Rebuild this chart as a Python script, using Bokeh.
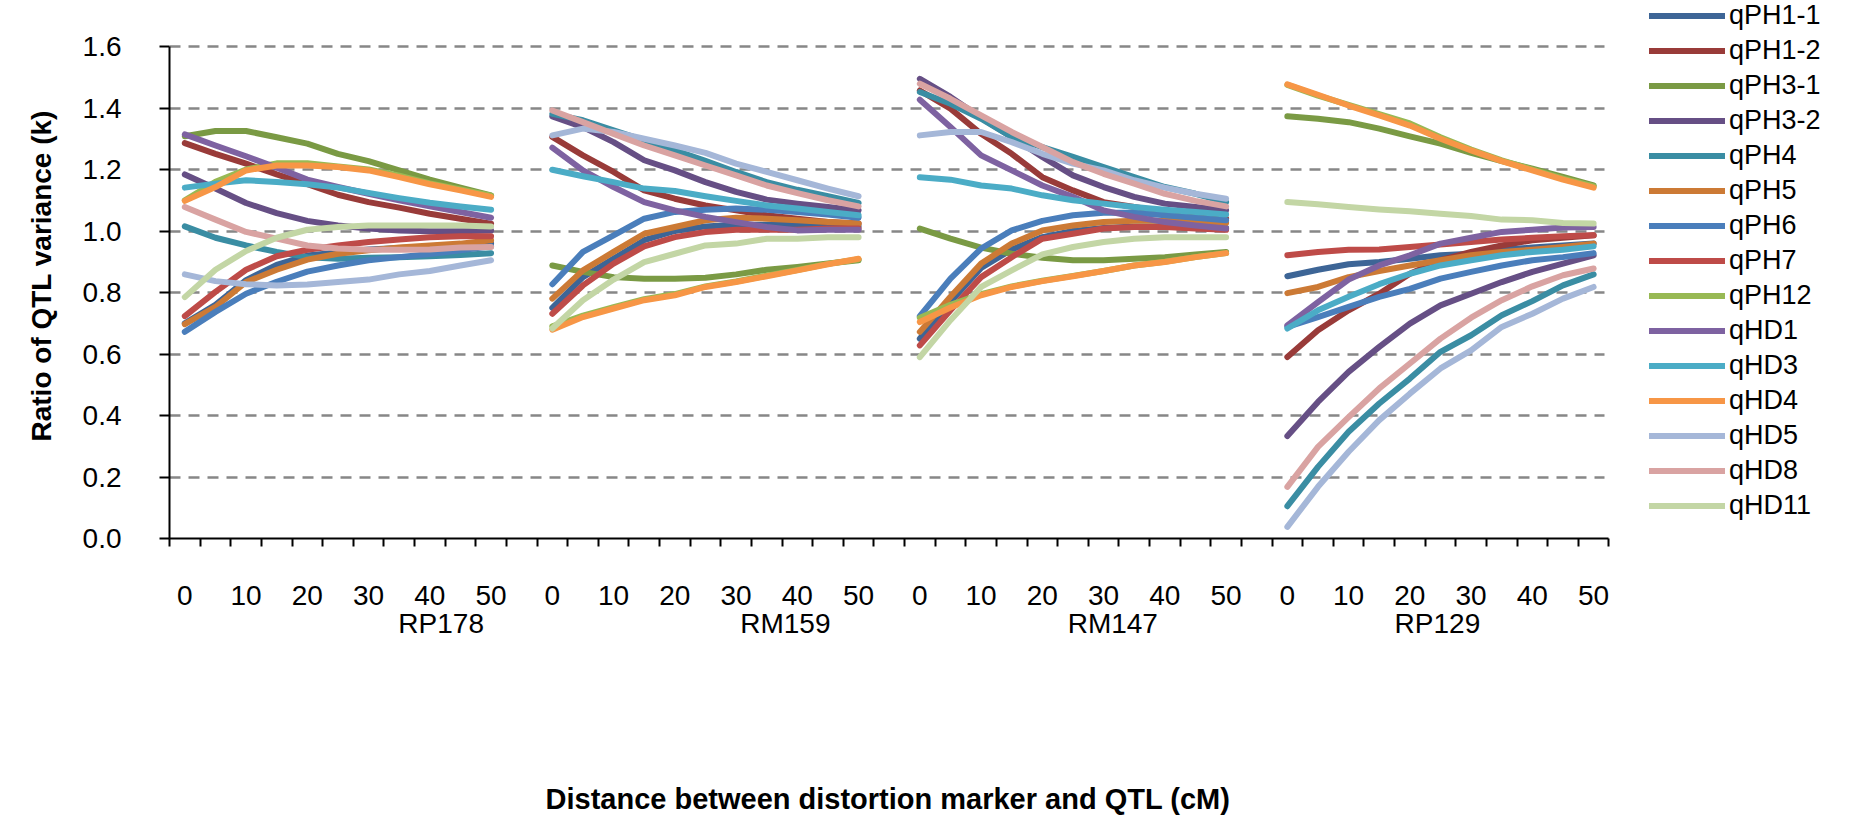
from bokeh.plotting import figure
from bokeh.models import (ColumnDataSource, Legend, LegendItem, LinearAxis,
                          FixedTicker, Range1d, NumeralTickFormatter, Title)
from bokeh.embed import file_html
from bokeh.resources import INLINE

# ---------------- data ----------------
markers = ["RP178", "RM159", "RM147", "RP129"]
distances = [0, 5, 10, 15, 20, 25, 30, 35, 40, 45, 50]
labelled_distances = [0, 10, 20, 30, 40, 50]

series_names = ["qPH1-1", "qPH1-2", "qPH3-1", "qPH3-2", "qPH4", "qPH5", "qPH6",
                "qPH7", "qPH12", "qHD1", "qHD3", "qHD4", "qHD5", "qHD8", "qHD11"]

# each series: one list of k values per marker (RP178, RM159, RM147, RP129)
qPH1_1 = [[0.70, 0.76, 0.84, 0.89, 0.92, 0.93, 0.94, 0.945, 0.95, 0.955, 0.96],
          [0.75, 0.85, 0.91, 0.97, 1.00, 1.015, 1.02, 1.02, 1.02, 1.02, 1.015],
          [0.65, 0.77, 0.88, 0.94, 0.98, 1.00, 1.01, 1.015, 1.015, 1.01, 1.01],
          [0.853, 0.874, 0.892, 0.899, 0.910, 0.921, 0.926, 0.939, 0.946, 0.953, 0.959]]
qPH1_2 = [[1.286, 1.251, 1.219, 1.184, 1.152, 1.118, 1.094, 1.076, 1.056, 1.040, 1.024],
          [1.306, 1.246, 1.192, 1.132, 1.105, 1.083, 1.067, 1.051, 1.040, 1.029, 1.024],
          [1.457, 1.398, 1.316, 1.251, 1.175, 1.132, 1.094, 1.078, 1.062, 1.051, 1.040],
          [0.590, 0.677, 0.742, 0.796, 0.861, 0.905, 0.932, 0.953, 0.970, 0.978, 0.986]]
qPH3_1 = [[1.308, 1.325, 1.325, 1.305, 1.284, 1.251, 1.227, 1.197, 1.167, 1.141, 1.116],
          [0.888, 0.867, 0.850, 0.845, 0.845, 0.848, 0.859, 0.874, 0.883, 0.894, 0.905],
          [1.008, 0.975, 0.946, 0.926, 0.913, 0.905, 0.905, 0.910, 0.915, 0.924, 0.932],
          [1.373, 1.365, 1.354, 1.333, 1.308, 1.284, 1.254, 1.227, 1.203, 1.176, 1.148]]
qPH3_2 = [[1.184, 1.138, 1.091, 1.058, 1.033, 1.018, 1.008, 1.002, 0.999, 0.999, 1.002],
          [1.373, 1.338, 1.289, 1.230, 1.197, 1.159, 1.127, 1.102, 1.089, 1.078, 1.067],
          [1.495, 1.436, 1.368, 1.306, 1.241, 1.181, 1.143, 1.111, 1.089, 1.078, 1.067],
          [0.333, 0.444, 0.542, 0.623, 0.699, 0.758, 0.796, 0.834, 0.867, 0.894, 0.921]]
qPH4 = [[1.015, 0.978, 0.953, 0.932, 0.915, 0.910, 0.913, 0.915, 0.918, 0.922, 0.928],
        [1.381, 1.360, 1.327, 1.295, 1.262, 1.228, 1.192, 1.159, 1.134, 1.113, 1.091],
        [1.452, 1.414, 1.365, 1.306, 1.273, 1.241, 1.208, 1.175, 1.143, 1.121, 1.094],
        [0.105, 0.233, 0.347, 0.439, 0.520, 0.607, 0.661, 0.726, 0.772, 0.823, 0.859]]
qPH5 = [[0.697, 0.753, 0.834, 0.874, 0.907, 0.926, 0.937, 0.946, 0.953, 0.959, 0.970],
        [0.780, 0.872, 0.932, 0.991, 1.013, 1.035, 1.043, 1.040, 1.035, 1.029, 1.024],
        [0.672, 0.786, 0.894, 0.959, 1.002, 1.018, 1.029, 1.033, 1.033, 1.029, 1.026],
        [0.798, 0.818, 0.850, 0.870, 0.888, 0.905, 0.921, 0.932, 0.939, 0.948, 0.959]]
qPH6 = [[0.672, 0.737, 0.796, 0.835, 0.868, 0.888, 0.905, 0.915, 0.925, 0.937, 0.950],
        [0.827, 0.932, 0.986, 1.040, 1.062, 1.069, 1.073, 1.069, 1.062, 1.054, 1.043],
        [0.723, 0.845, 0.943, 1.002, 1.033, 1.051, 1.059, 1.059, 1.051, 1.043, 1.035],
        [0.688, 0.720, 0.753, 0.786, 0.812, 0.845, 0.867, 0.888, 0.905, 0.915, 0.928]]
qPH7 = [[0.723, 0.802, 0.874, 0.918, 0.939, 0.953, 0.964, 0.972, 0.980, 0.983, 0.983],
        [0.731, 0.823, 0.894, 0.950, 0.980, 0.997, 1.004, 1.004, 1.004, 1.008, 1.008],
        [0.628, 0.742, 0.850, 0.915, 0.975, 0.991, 1.008, 1.013, 1.013, 1.008, 1.004],
        [0.921, 0.932, 0.939, 0.940, 0.948, 0.956, 0.964, 0.972, 0.978, 0.983, 0.986]]
qPH12 = [[1.100, 1.160, 1.200, 1.220, 1.220, 1.210, 1.200, 1.180, 1.155, 1.135, 1.115],
         [0.690, 0.725, 0.752, 0.778, 0.795, 0.820, 0.836, 0.855, 0.873, 0.893, 0.908],
         [0.718, 0.760, 0.795, 0.820, 0.838, 0.854, 0.870, 0.888, 0.900, 0.915, 0.928],
         [1.475, 1.440, 1.410, 1.380, 1.350, 1.305, 1.265, 1.230, 1.200, 1.170, 1.145]]
qHD1 = [[1.314, 1.278, 1.243, 1.206, 1.167, 1.143, 1.121, 1.100, 1.080, 1.062, 1.043],
        [1.271, 1.197, 1.143, 1.094, 1.067, 1.046, 1.029, 1.013, 1.002, 1.004, 1.004],
        [1.427, 1.338, 1.246, 1.197, 1.148, 1.111, 1.067, 1.046, 1.029, 1.018, 1.008],
        [0.693, 0.769, 0.842, 0.888, 0.921, 0.959, 0.978, 0.997, 1.004, 1.011, 1.013]]
qHD3 = [[1.141, 1.154, 1.165, 1.159, 1.152, 1.141, 1.124, 1.107, 1.092, 1.080, 1.069],
        [1.199, 1.178, 1.159, 1.138, 1.130, 1.113, 1.098, 1.083, 1.073, 1.062, 1.051],
        [1.175, 1.167, 1.148, 1.138, 1.116, 1.100, 1.089, 1.078, 1.069, 1.062, 1.054],
        [0.683, 0.742, 0.786, 0.827, 0.861, 0.888, 0.905, 0.921, 0.932, 0.939, 0.950]]
qHD4 = [[1.098, 1.143, 1.197, 1.213, 1.213, 1.208, 1.197, 1.175, 1.152, 1.132, 1.111],
        [0.679, 0.720, 0.748, 0.775, 0.791, 0.818, 0.834, 0.853, 0.872, 0.892, 0.910],
        [0.704, 0.751, 0.791, 0.818, 0.837, 0.853, 0.870, 0.888, 0.899, 0.915, 0.928],
        [1.477, 1.443, 1.408, 1.376, 1.343, 1.300, 1.262, 1.227, 1.197, 1.167, 1.141]]
qHD5 = [[0.859, 0.837, 0.827, 0.823, 0.826, 0.834, 0.842, 0.859, 0.870, 0.888, 0.905],
        [1.311, 1.333, 1.322, 1.300, 1.278, 1.254, 1.219, 1.192, 1.165, 1.138, 1.113],
        [1.311, 1.322, 1.322, 1.289, 1.251, 1.219, 1.197, 1.165, 1.141, 1.121, 1.105],
        [0.038, 0.168, 0.282, 0.385, 0.471, 0.553, 0.612, 0.688, 0.731, 0.780, 0.818]]
qHD8 = [[1.078, 1.037, 0.997, 0.975, 0.953, 0.943, 0.939, 0.939, 0.940, 0.946, 0.948],
        [1.392, 1.354, 1.316, 1.278, 1.246, 1.213, 1.181, 1.148, 1.123, 1.100, 1.080],
        [1.479, 1.430, 1.376, 1.322, 1.273, 1.224, 1.186, 1.154, 1.121, 1.098, 1.080],
        [0.168, 0.298, 0.395, 0.488, 0.569, 0.650, 0.718, 0.775, 0.820, 0.856, 0.878]]
qHD11 = [[0.785, 0.874, 0.935, 0.978, 1.004, 1.013, 1.018, 1.018, 1.018, 1.018, 1.015],
         [0.683, 0.775, 0.842, 0.899, 0.926, 0.953, 0.959, 0.975, 0.975, 0.980, 0.980],
         [0.590, 0.710, 0.818, 0.872, 0.924, 0.948, 0.964, 0.975, 0.980, 0.980, 0.980],
         [1.094, 1.087, 1.078, 1.070, 1.064, 1.056, 1.049, 1.037, 1.035, 1.026, 1.024]]

series_values = [qPH1_1, qPH1_2, qPH3_1, qPH3_2, qPH4, qPH5, qPH6,
                 qPH7, qPH12, qHD1, qHD3, qHD4, qHD5, qHD8, qHD11]

y_ticks = [0.0, 0.2, 0.4, 0.6, 0.8, 1.0, 1.2, 1.4, 1.6]
x_title = "Distance between distortion marker and QTL (cM)"
y_title = "Ratio of QTL variance (k)"

# ---------------- styles / layout ----------------
colors = ["#3D6596", "#993B39", "#7A9A44", "#664F85", "#3A8DA3", "#CC7A35",
          "#4A7EBB", "#BE4B48", "#98B954", "#7E62A1", "#4BACC6", "#F79646",
          "#A5B7D8", "#D9A3A2", "#C3D6A5"]
# offset (in category slots) of each marker's group label from its group's start
group_label_offset = [8.37, 7.61, 6.3, 4.9]

FONT = "Liberation Sans"
n_pts = len(distances)
stride = n_pts + 1          # one empty slot between marker groups
n_slots = stride * len(markers) - 1

# pixel layout: chart area 166..1608 x 46..538; the plotting frame is
# extended to the top/right edge so that the legend can live inside it
W, H = 1852, 825
LEFT, TOP, AXW, AXH = 166, 46, 1442, 492
slot_px = AXW / n_slots
x_lo = -0.5
x_axis_hi = n_slots - 0.5
x_frame_hi = x_lo + (W - LEFT) / slot_px
y_axis_hi = y_ticks[-1]
y_frame_hi = y_axis_hi * (AXH + TOP) / AXH

p = figure(width=W, height=H, output_backend="svg", toolbar_location=None,
           x_range=Range1d(x_lo, x_frame_hi), y_range=Range1d(0, y_frame_hi),
           min_border_left=LEFT, min_border_top=0,
           min_border_right=0, min_border_bottom=H - TOP - AXH)
p.outline_line_color = None
p.background_fill_color = "white"
p.border_fill_color = "white"

items = []
for name, vals, col in zip(series_names, series_values, colors):
    xs = [[g * stride + k for k in range(n_pts)] for g in range(len(markers))]
    src = ColumnDataSource(dict(xs=xs, ys=vals))
    r = p.multi_line("xs", "ys", source=src, line_color=col, line_width=6,
                     line_cap="round", line_join="round")
    items.append(LegendItem(label=name, renderers=[r]))

# grid
p.xgrid.visible = False
yg = p.ygrid[0]
yg.ticker = FixedTicker(ticks=y_ticks[1:])
yg.grid_line_color = "#878787"
yg.grid_line_width = 2.5
yg.grid_line_dash = "11 8"
if "cross_bounds" in yg.properties():
    yg.cross_bounds = (x_lo, x_axis_hi - 0.15)

# y axis
ya = p.yaxis[0]
ya.bounds = (0, y_axis_hi)
ya.ticker = FixedTicker(ticks=y_ticks, minor_ticks=[])
ya.formatter = NumeralTickFormatter(format="0.0")
ya.axis_line_color = "black"
ya.axis_line_width = 2
ya.major_tick_line_width = 2
ya.major_tick_out = 10
ya.major_tick_in = 0
ya.major_label_standoff = 38
ya.major_label_text_font = FONT
ya.major_label_text_font_size = "28px"
ya.major_label_text_color = "black"

# x axis: tick marks at slot boundaries, labels at every other slot centre
xa = p.xaxis[0]
xa.bounds = (x_lo, x_axis_hi)
label_pos = []
overrides = {}
for g in range(len(markers)):
    for d in labelled_distances:
        pos = g * stride + distances.index(d)
        label_pos.append(pos)
        overrides[pos] = str(d)
boundaries = [i - 0.5 for i in range(n_slots + 1)]
xa.ticker = FixedTicker(ticks=label_pos, minor_ticks=boundaries)
xa.major_label_overrides = overrides
xa.major_tick_line_color = None
xa.major_tick_out = 8
xa.major_tick_in = 0
xa.minor_tick_line_color = "black"
xa.minor_tick_line_width = 2
xa.minor_tick_out = 8
xa.minor_tick_in = 0
xa.axis_line_color = "black"
xa.axis_line_width = 2
xa.major_label_standoff = 39
xa.major_label_text_font = FONT
xa.major_label_text_font_size = "28px"
xa.major_label_text_color = "black"

# second x axis: marker names
grp_pos = [g * stride + off for g, off in enumerate(group_label_offset)]
ga = LinearAxis(ticker=FixedTicker(ticks=grp_pos, minor_ticks=[]),
                major_label_overrides={pos: m for pos, m in zip(grp_pos, markers)})
ga.bounds = (x_lo, x_axis_hi)
ga.axis_line_color = None
ga.major_tick_line_color = None
ga.minor_tick_line_color = None
ga.major_tick_out = 0
ga.major_tick_in = 0
ga.major_label_standoff = 0
ga.major_label_text_font = FONT
ga.major_label_text_font_size = "28px"
ga.major_label_text_color = "black"
p.add_layout(ga, "below")

# invisible spacer axis (one hidden tick) that pushes the x title down
spacer_tick = grp_pos[0]
spacer = LinearAxis(ticker=FixedTicker(ticks=[spacer_tick], minor_ticks=[]),
                    major_label_overrides={spacer_tick: ""})
spacer.bounds = (x_lo, x_axis_hi)
spacer.axis_line_color = None
spacer.major_tick_line_color = None
spacer.minor_tick_line_color = None
spacer.major_tick_in = 0
spacer.major_tick_out = 134
spacer.minor_tick_out = 0
spacer.major_label_standoff = 0
spacer.major_label_text_font_size = "1px"
spacer.major_label_text_alpha = 0
p.add_layout(spacer, "below")

# axis titles, placed over the chart area rather than the extended frame
x_title_left = 542
y_title_bottom = 441
xt = Title(text=x_title, align="left", offset=x_title_left - LEFT,
           standoff=10, text_font=FONT, text_font_size="29px",
           text_font_style="bold", text_color="black")
p.add_layout(xt, "below")
yt = Title(text=y_title, align="left", offset=TOP + AXH - y_title_bottom,
           standoff=46, text_font=FONT, text_font_size="28px",
           text_font_style="bold", text_color="black")
p.add_layout(yt, "left")

# legend, inside the (extended) frame, right of the chart area
n_items = len(items)
item_h, gap = 31, 4
leg_h = n_items * item_h + (n_items - 1) * gap
legend = Legend(items=items, location=(1646 - LEFT, TOP + AXH - leg_h),
                padding=0, margin=0, spacing=gap, glyph_width=76,
                glyph_height=item_h, label_height=item_h, label_standoff=4,
                label_text_font=FONT, label_text_font_size="27px",
                label_text_color="black", border_line_color=None,
                background_fill_alpha=0)
p.add_layout(legend, "center")

open("out.html", "w").write(file_html(p, INLINE))
